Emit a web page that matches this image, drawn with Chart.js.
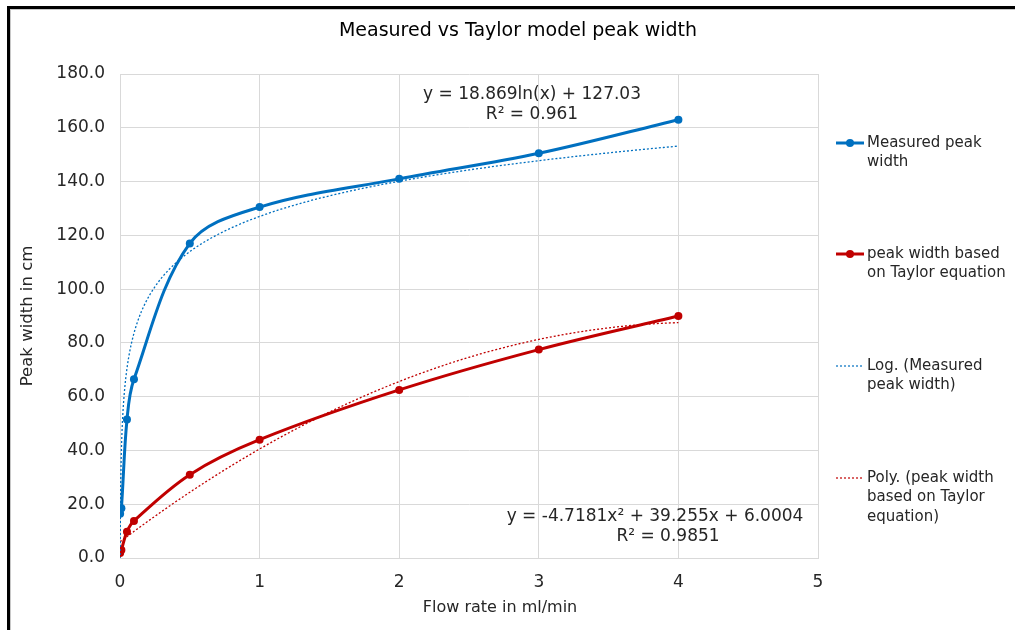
<!DOCTYPE html>
<html><head><meta charset="utf-8">
<script src="https://cdn.jsdelivr.net/npm/chart.js@4.4.1/dist/chart.umd.min.js"></script>
<style>html,body{margin:0;padding:0;background:#fff;}canvas{display:block;}</style>
</head><body>
<canvas id="c" width="1015" height="630"></canvas>
<script>
// ---- data ----
const flowRates = [0.001, 0.01, 0.05, 0.1, 0.5, 1, 2, 3, 4];
const measuredWidth = [16.5, 18.5, 51.5, 66.5, 117, 130.5, 141, 150.5, 163];
const taylorWidth = [1.9, 3.0, 9.8, 13.8, 31, 44, 62.5, 77.5, 90];
const xTicks = [0, 1, 2, 3, 4, 5];
const yTicks = [0, 20, 40, 60, 80, 100, 120, 140, 160, 180];
// trendline coefficients as displayed on the chart
const logCoef = [18.869, 127.03];            // y = a ln(x) + b
const polyCoef = [-4.7181, 39.255, 6.0004];  // y = a x^2 + b x + c
const eqLog = ["y = 18.869ln(x) + 127.03", "R² = 0.961"];
const eqPoly = ["y = -4.7181x² + 39.255x + 6.0004", "R² = 0.9851"];
const legendLabels = [
  ["Measured peak", "width"],
  ["peak width based", "on Taylor equation"],
  ["Log. (Measured", "peak width)"],
  ["Poly. (peak width", "based on Taylor", "equation)"]
];

const BLUE = '#0070C0', RED = '#C00000';
const FONT = "'DejaVu Sans', Verdana, sans-serif";

const measuredPts = flowRates.map((x, i) => ({x, y: measuredWidth[i]}));
const taylorPts = flowRates.map((x, i) => ({x, y: taylorWidth[i]}));
const xmin = flowRates[0], xmax = flowRates[flowRates.length - 1];
const logTrend = [];
for (let i = 0; i <= 300; i++) {
  const x = xmin * Math.pow(xmax / xmin, i / 300);
  logTrend.push({x, y: logCoef[0] * Math.log(x) + logCoef[1]});
}
const polyTrend = [];
for (let i = 0; i <= 200; i++) {
  const x = xmin + (xmax - xmin) * i / 200;
  polyTrend.push({x, y: polyCoef[0] * x * x + polyCoef[1] * x + polyCoef[2]});
}

const decor = {
  id: 'decor',
  beforeDraw(chart) {
    const c = chart.ctx;
    c.save();
    c.fillStyle = '#fff';
    c.fillRect(0, 0, chart.width, chart.height);
    c.restore();
  },
  afterDraw(chart) {
    const c = chart.ctx;
    c.save();
    // frame
    c.fillStyle = '#000';
    c.fillRect(7, 6, 1008, 3);
    c.fillRect(7, 6, 3, 624);
    c.fillStyle = '#c8c8c8';
    c.fillRect(10, 9, 1005, 1);
    c.fillRect(10, 9, 1, 621);
    // title
    c.fillStyle = '#000';
    c.textAlign = 'center';
    c.textBaseline = 'middle';
    c.font = "19px " + FONT;
    c.fillText("Measured vs Taylor model peak width", 518, 31);
    // x axis title
    c.fillStyle = '#262626';
    c.font = "16px " + FONT;
    c.fillText("Flow rate in ml/min", 500, 608);
    // equations
    c.font = "17px " + FONT;
    c.fillText(eqLog[0], 532, 95);
    c.fillText(eqLog[1], 532, 115);
    c.fillText(eqPoly[0], 655, 517);
    c.fillText(eqPoly[1], 668, 537);
    // legend
    const ys = [143, 254, 366, 478];
    const kinds = [
      {color: BLUE, dot: true, dash: []},
      {color: RED, dot: true, dash: []},
      {color: BLUE, dot: false, dash: [2, 2]},
      {color: RED, dot: false, dash: [2, 2]}
    ];
    c.font = "15px " + FONT;
    c.textAlign = 'left';
    legendLabels.forEach((lines, i) => {
      const k = kinds[i], y = ys[i];
      c.strokeStyle = k.color;
      c.lineWidth = k.dot ? 3 : 1.2;
      c.setLineDash(k.dash);
      c.beginPath(); c.moveTo(836, y); c.lineTo(864, y); c.stroke();
      c.setLineDash([]);
      if (k.dot) {
        c.fillStyle = k.color;
        c.beginPath(); c.arc(850, y, 4, 0, Math.PI * 2); c.fill();
      }
      c.fillStyle = '#262626';
      lines.forEach((t, j) => c.fillText(t, 867, y + j * 19.5));
    });
    c.restore();
  }
};

new Chart(document.getElementById('c'), {
  type: 'scatter',
  data: {
    datasets: [
      {label: 'Log. (Measured peak width)', data: logTrend, showLine: true, borderColor: BLUE,
       borderWidth: 1.3, borderDash: [2, 2], pointRadius: 0, tension: 0, order: 1},
      {label: 'Poly. (peak width based on Taylor equation)', data: polyTrend, showLine: true, borderColor: RED,
       borderWidth: 1.3, borderDash: [2, 2], pointRadius: 0, tension: 0, order: 1},
      {label: 'Measured peak width', data: measuredPts, showLine: true, borderColor: BLUE, backgroundColor: BLUE,
       borderWidth: 3, pointRadius: 4, pointBorderWidth: 0, tension: 0.35, order: 2},
      {label: 'peak width based on Taylor equation', data: taylorPts, showLine: true, borderColor: RED, backgroundColor: RED,
       borderWidth: 3, pointRadius: 4, pointBorderWidth: 0, tension: 0.35, order: 2}
    ]
  },
  options: {
    responsive: false,
    animation: false,
    layout: {padding: {left: 0, top: 74, right: 197, bottom: 0}},
    plugins: {legend: {display: false}, tooltip: {enabled: false}, title: {display: false}},
    scales: {
      x: {
        type: 'linear', min: 0, max: 5,
        afterBuildTicks: s => { s.ticks = xTicks.map(v => ({value: v})); },
        afterFit: s => { s.height = 72; },
        grid: {color: '#d9d9d9', drawTicks: false},
        border: {color: '#d9d9d9'},
        ticks: {color: '#262626', font: {family: FONT, size: 17}, padding: 14, callback: v => String(v)},
        title: {display: false}
      },
      y: {
        type: 'linear', min: 0, max: 180,
        afterBuildTicks: s => { s.ticks = yTicks.map(v => ({value: v})); },
        afterFit: s => { s.width = 120; },
        grid: {color: '#d9d9d9', drawTicks: false},
        border: {color: '#d9d9d9'},
        ticks: {color: '#262626', font: {family: FONT, size: 17}, padding: 15, callback: v => v.toFixed(1)},
        title: {display: true, text: 'Peak width in cm', color: '#262626', font: {family: FONT, size: 16.5},
                padding: {top: 18, bottom: 0}}
      }
    }
  },
  plugins: [decor]
});
</script>
</body></html>
